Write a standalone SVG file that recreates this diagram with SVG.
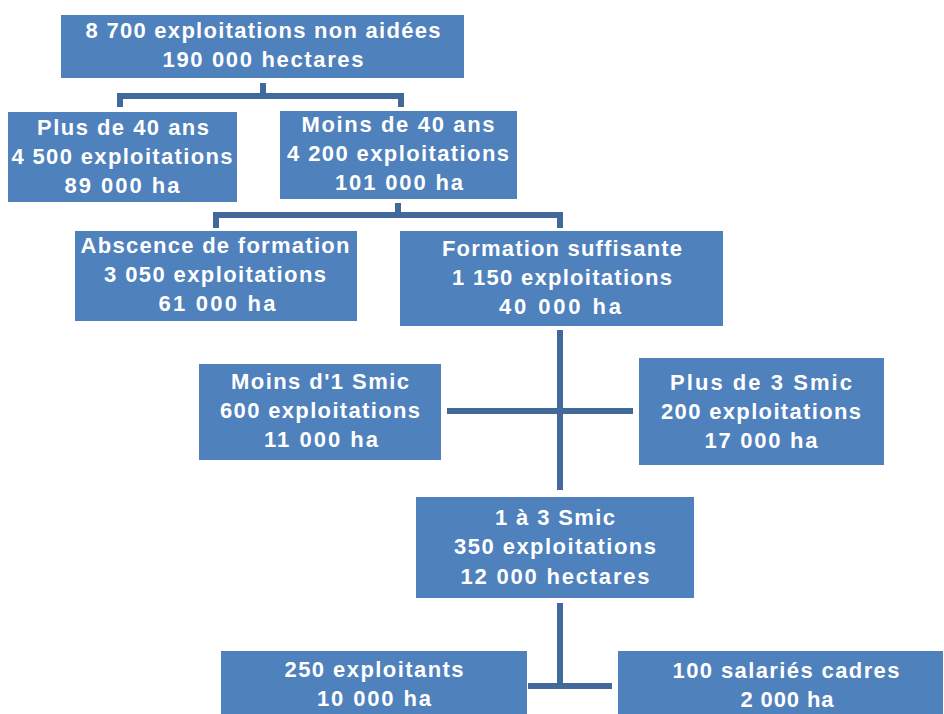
<svg xmlns="http://www.w3.org/2000/svg" width="944" height="714" viewBox="0 0 944 714">
<style>
.box{fill:#4F81BD}
.t{fill:#FFFFFF;font-family:"Liberation Sans",Arial,sans-serif;font-weight:bold;font-size:22px;text-anchor:middle}
.c{fill:none;stroke:#41699C;stroke-width:6}
</style>
<rect width="944" height="714" fill="#FFFFFF"/>
<g id="connectors">
<path class="c" d="M263 83 V96 M120 107 V96 H401 V107"/>
<path class="c" d="M398 203 V215 M216 228 V215 H560 V228"/>
<path class="c" d="M560 330 V490 M447 411 H633"/>
<path class="c" d="M560 603 V686 M528 686 H612"/>
</g>
<g id="n_top"><rect class="box" x="61" y="15" width="403" height="63"/>
<text class="t" x="263" y="38" textLength="355" lengthAdjust="spacing">8 700 exploitations non aidées</text>
<text class="t" x="263" y="67" textLength="201" lengthAdjust="spacing">190 000 hectares</text></g>
<g id="n_plus40"><rect class="box" x="8" y="112" width="229" height="90"/>
<text class="t" x="123" y="135" textLength="172" lengthAdjust="spacing">Plus de 40 ans</text>
<text class="t" x="122" y="164" textLength="221" lengthAdjust="spacing">4 500 exploitations</text>
<text class="t" x="122" y="193" textLength="115" lengthAdjust="spacing">89 000 ha</text></g>
<g id="n_moins40"><rect class="box" x="280" y="111" width="237" height="88"/>
<text class="t" x="398" y="132" textLength="193" lengthAdjust="spacing">Moins de 40 ans</text>
<text class="t" x="398" y="161" textLength="222" lengthAdjust="spacing">4 200 exploitations</text>
<text class="t" x="399" y="190" textLength="128" lengthAdjust="spacing">101 000 ha</text></g>
<g id="n_abscence"><rect class="box" x="75" y="231" width="282" height="90"/>
<text class="t" x="215" y="253" textLength="269" lengthAdjust="spacing">Abscence de formation</text>
<text class="t" x="215" y="282" textLength="222" lengthAdjust="spacing">3 050 exploitations</text>
<text class="t" x="217" y="311" textLength="117" lengthAdjust="spacing">61 000 ha</text></g>
<g id="n_formation"><rect class="box" x="400" y="231" width="323" height="95"/>
<text class="t" x="562" y="256" textLength="240" lengthAdjust="spacing">Formation suffisante</text>
<text class="t" x="562" y="285" textLength="220" lengthAdjust="spacing">1 150 exploitations</text>
<text class="t" x="560" y="314" textLength="122" lengthAdjust="spacing">40 000  ha</text></g>
<g id="n_moins1smic"><rect class="box" x="199" y="364" width="242" height="96"/>
<text class="t" x="320" y="389" textLength="178" lengthAdjust="spacing">Moins d'1 Smic</text>
<text class="t" x="320" y="418" textLength="200" lengthAdjust="spacing">600 exploitations</text>
<text class="t" x="321" y="447" textLength="114" lengthAdjust="spacing">11 000 ha</text></g>
<g id="n_plus3smic"><rect class="box" x="639" y="358" width="245" height="107"/>
<text class="t" x="761" y="390" textLength="182" lengthAdjust="spacing">Plus de  3 Smic</text>
<text class="t" x="761" y="419" textLength="200" lengthAdjust="spacing">200 exploitations</text>
<text class="t" x="761" y="448" textLength="113" lengthAdjust="spacing">17 000 ha</text></g>
<g id="n_1a3smic"><rect class="box" x="416" y="497" width="278" height="101"/>
<text class="t" x="555" y="525" textLength="120" lengthAdjust="spacing">1 à 3 Smic</text>
<text class="t" x="555" y="554" textLength="202" lengthAdjust="spacing">350 exploitations</text>
<text class="t" x="555" y="584" textLength="189" lengthAdjust="spacing">12 000 hectares</text></g>
<g id="n_exploitants"><rect class="box" x="221" y="651" width="306" height="63"/>
<text class="t" x="374" y="677" textLength="179" lengthAdjust="spacing">250 exploitants</text>
<text class="t" x="374" y="706" textLength="114" lengthAdjust="spacing">10 000 ha</text></g>
<g id="n_salaries"><rect class="box" x="618" y="651" width="325" height="63"/>
<text class="t" x="786" y="678" textLength="227" lengthAdjust="spacing">100 salariés cadres</text>
<text class="t" x="787" y="707" textLength="93" lengthAdjust="spacing">2 000 ha</text></g>
</svg>
